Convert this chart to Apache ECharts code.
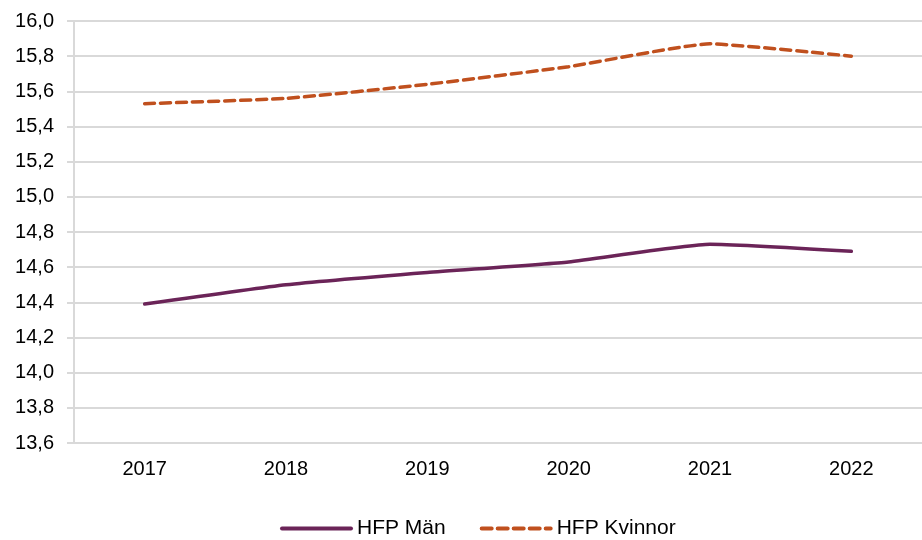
<!DOCTYPE html>
<html>
<head>
<meta charset="utf-8">
<script src="https://cdn.jsdelivr.net/npm/echarts@6/dist/echarts.min.js"></script>
<style>
    html, body { margin: 0; padding: 0; background: #fff; }
    #chart { width: 922px; height: 540px; }
</style>
</head>
<body>
<div id="chart"></div>
<script>
// kategorier och värden
var years = ['2017', '2018', '2019', '2020', '2021', '2022'];
var hfpMan = [14.39, 14.50, 14.57, 14.63, 14.73, 14.69];
var hfpKvinnor = [15.53, 15.56, 15.64, 15.74, 15.87, 15.80];
var seriesNames = ['HFP Män', 'HFP Kvinnor'];

var myChart = echarts.init(document.getElementById('chart'));

var option = {
    animation: false,
    textStyle: { fontFamily: 'Liberation Sans, Arial, sans-serif' },
    grid: {
        left: 74,
        top: 21,
        width: 854,
        bottom: 97
    },
    legend: {
        left: 275,
        top: 513,
        itemWidth: 69,
        itemHeight: 22,
        itemGap: 34,
        itemStyle: { opacity: 0 },
        lineStyle: { width: 4 },
        textStyle: { fontSize: 21, color: '#000', padding: [0, 0, 0, 1] },
        data: seriesNames
    },
    xAxis: {
        type: 'category',
        data: years,
        boundaryGap: true,
        axisLine: { show: false },
        axisTick: { show: false },
        axisLabel: { color: '#000', fontSize: 20, margin: 16 }
    },
    yAxis: {
        type: 'value',
        min: 13.6,
        max: 16.0,
        interval: 0.2,
        axisLine: { show: true, lineStyle: { color: '#d9d9d9', width: 2 } },
        axisTick: { show: true, length: 7, lineStyle: { color: '#d9d9d9', width: 2 } },
        splitLine: { lineStyle: { color: '#d9d9d9', width: 2 } },
        axisLabel: {
            color: '#000',
            fontSize: 20,
            margin: 20,
            formatter: function (v) { return v.toFixed(1).replace('.', ','); }
        }
    },
    series: [
        {
            name: seriesNames[0],
            type: 'line',
            data: hfpMan,
            smooth: 0.15,
            symbol: 'none',
            lineStyle: { color: '#6b2458', width: 3.5, cap: 'round' },
            itemStyle: { color: '#6b2458' }
        },
        {
            name: seriesNames[1],
            type: 'line',
            data: hfpKvinnor,
            smooth: 0.15,
            symbol: 'none',
            lineStyle: { color: '#c0501e', width: 3.5, type: [10, 6], cap: 'round' },
            itemStyle: { color: '#c0501e' }
        }
    ]
};

myChart.setOption(option);
</script>
</body>
</html>
